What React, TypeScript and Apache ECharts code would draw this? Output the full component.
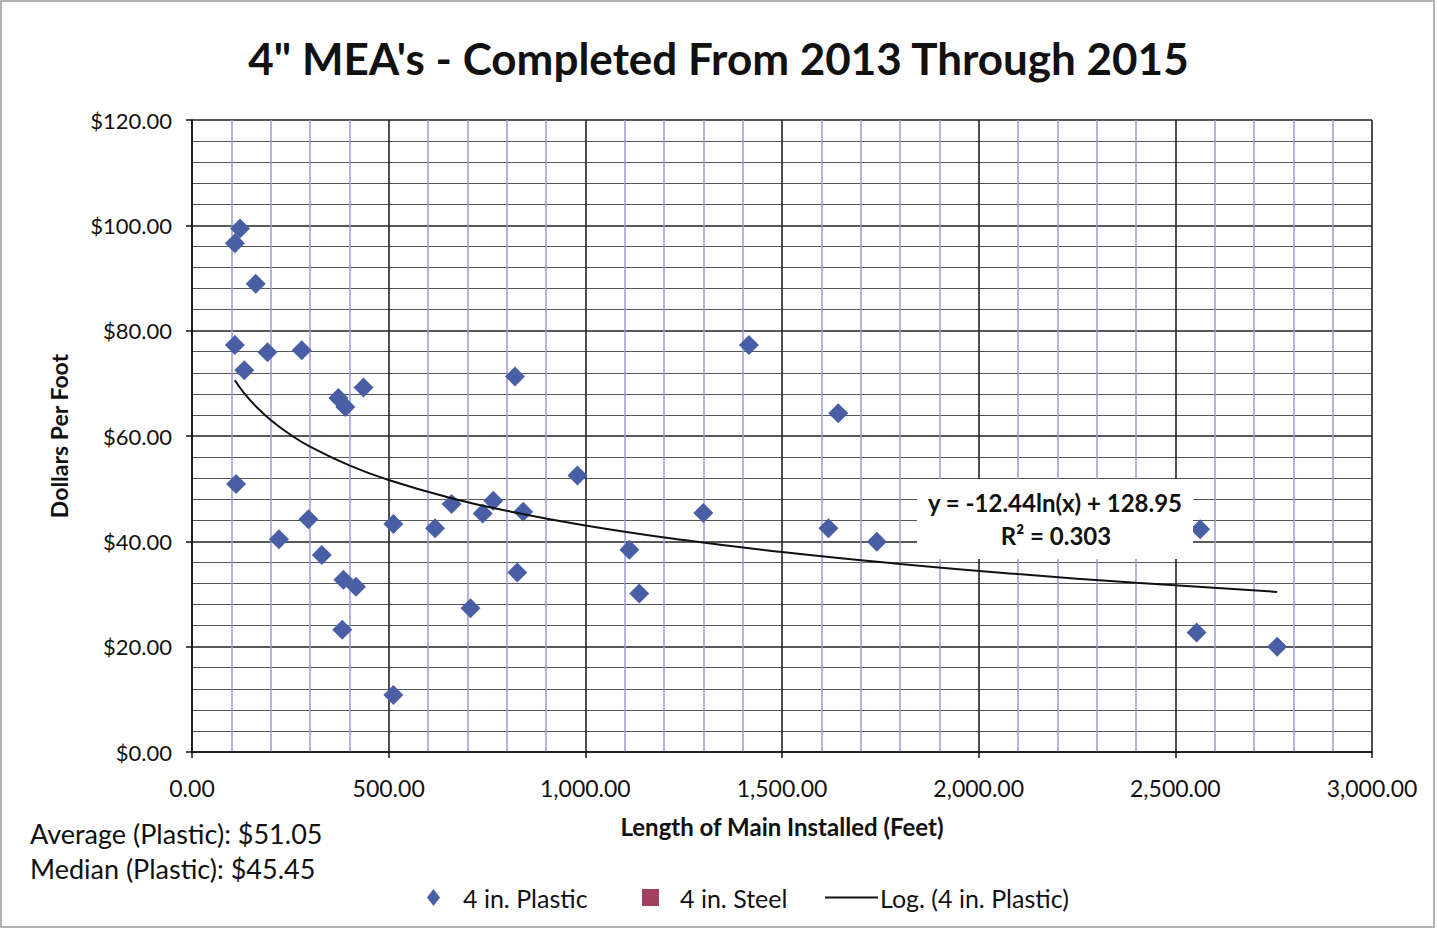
import React, { useEffect, useRef } from "react";
import * as echarts from "echarts";

const titleText = "4\" MEA's - Completed From 2013 Through 2015";
const plasticX = [122, 109, 162, 109, 192, 279, 133, 821, 436, 372, 390, 112, 980, 660, 766, 739, 842, 296, 512, 618, 221, 330, 827, 385, 417, 708, 382, 512, 1416, 1643, 1300, 1112, 1137, 1618, 1741, 2563, 2554, 2759];
const plasticY = [99.4, 96.6, 88.9, 77.3, 75.9, 76.3, 72.5, 71.3, 69.2, 67.2, 65.5, 50.9, 52.5, 47.1, 47.7, 45.3, 45.6, 44.2, 43.3, 42.5, 40.4, 37.4, 34.1, 32.7, 31.4, 27.3, 23.2, 10.8, 77.3, 64.3, 45.4, 38.4, 30.1, 42.5, 39.9, 42.3, 22.7, 20.0];
const steelX: number[] = [];
const steelY: number[] = [];
const trendCoef = [-12.44, 128.95];
const trendX = [109, 130, 160, 200, 250, 300, 400, 500, 650, 800, 1000, 1250, 1500, 1800, 2100, 2400, 2759];
const equationLines = ["y = -12.44ln(x) + 128.95", "R² = 0.303"];
const statLines = ["Average (Plastic): $51.05", "Median (Plastic): $45.45"];
const seriesNames = ["4 in. Plastic", "4 in. Steel", "Log. (4 in. Plastic)"];
const xAxisName = "Length of Main Installed (Feet)";
const yAxisName = "Dollars Per Foot";

const FONT = "Lato, 'Open Sans', sans-serif";
const PLASTIC_COLOR = "#4a5ea6";
const STEEL_COLOR = "#a3405f";

export default function App() {
  const ref = useRef<HTMLDivElement>(null);
  useEffect(() => {
    if (!ref.current) return;
    const chart = echarts.init(ref.current, null, { renderer: "svg" });
    const plastic = plasticX.map((x, i) => [x, plasticY[i]]);
    const steel = steelX.map((x, i) => [x, steelY[i]]);
    const trend = trendX.map((x) => [x, trendCoef[0] * Math.log(x) + trendCoef[1]]);
    const legendText = { fontFamily: FONT, fontSize: 25, color: "#111" };
    chart.setOption({
      animation: false,
      backgroundColor: "#fff",
      textStyle: { fontFamily: FONT },
      title: {
        text: titleText,
        left: "center",
        top: 31,
        textStyle: { fontFamily: FONT, fontSize: 44, fontWeight: "bold", color: "#111" },
      },
      grid: { left: 192, right: 65, top: 120, bottom: 183 },
      legend: [
        {
          data: [{ name: seriesNames[0], icon: "diamond" }],
          left: 422,
          top: 880,
          itemWidth: 13,
          itemHeight: 17,
          textStyle: { ...legendText, padding: [0, 0, 0, 18] },
        },
        {
          data: [{ name: seriesNames[1], icon: "rect" }],
          left: 637,
          top: 880,
          itemWidth: 17,
          itemHeight: 17,
          textStyle: { ...legendText, padding: [0, 0, 0, 16] },
        },
        {
          data: [{ name: seriesNames[2], icon: "rect" }],
          left: 820,
          top: 880,
          itemWidth: 53,
          itemHeight: 2,
          textStyle: { ...legendText, padding: [0, 0, 0, -3] },
        },
      ],
      xAxis: {
        type: "value",
        min: 0,
        max: 3000,
        interval: 500,
        name: xAxisName,
        nameLocation: "middle",
        nameGap: 62,
        nameTextStyle: { fontFamily: FONT, fontSize: 24, fontWeight: "bold", color: "#111" },
        axisLine: { show: true, onZero: false, lineStyle: { color: "#111", width: 1.5 } },
        axisTick: { show: true, length: 6, lineStyle: { color: "#111", width: 1.5 } },
        axisLabel: {
          fontFamily: FONT,
          fontSize: 23,
          color: "#111",
          margin: 24,
          formatter: (v: number) => v.toLocaleString("en-US", { minimumFractionDigits: 2, maximumFractionDigits: 2 }),
        },
        splitLine: { show: true, lineStyle: { color: "#222", width: 1.6 } },
        minorTick: { show: false, splitNumber: 5 },
        minorSplitLine: { show: true, lineStyle: { color: "#9a9ad2", width: 1.5 } },
      },
      yAxis: {
        type: "value",
        min: 0,
        max: 120,
        interval: 20,
        name: yAxisName,
        nameLocation: "middle",
        nameGap: 122,
        nameTextStyle: { fontFamily: FONT, fontSize: 23, fontWeight: "bold", color: "#111" },
        axisLine: { show: true, lineStyle: { color: "#111", width: 1.5 } },
        axisTick: { show: true, length: 6, lineStyle: { color: "#111", width: 1.5 } },
        axisLabel: {
          fontFamily: FONT,
          fontSize: 22,
          color: "#111",
          margin: 20,
          formatter: (v: number) => "$" + v.toFixed(2),
        },
        splitLine: { show: true, lineStyle: { color: "#222", width: 1.6 } },
        minorTick: { show: false, splitNumber: 5 },
        minorSplitLine: { show: true, lineStyle: { color: "#555", width: 1.2 } },
      },
      series: [
        {
          name: seriesNames[0],
          type: "scatter",
          symbol: "diamond",
          symbolSize: [20, 20],
          itemStyle: { color: PLASTIC_COLOR, opacity: 1 },
          data: plastic,
          z: 3,
        },
        {
          name: seriesNames[1],
          type: "scatter",
          symbol: "rect",
          symbolSize: 12,
          itemStyle: { color: STEEL_COLOR, opacity: 1 },
          data: steel,
        },
        {
          name: seriesNames[2],
          type: "line",
          smooth: true,
          showSymbol: false,
          symbol: "none",
          lineStyle: { color: "#111", width: 2 },
          itemStyle: { color: "#111" },
          data: trend,
          z: 4,
        },
      ],
      graphic: [
        {
          type: "rect",
          shape: { x: 1, y: 1, width: 1433, height: 926 },
          style: { fill: "none", stroke: "#999", lineWidth: 1.5 },
          z: 10,
        },
        {
          type: "rect",
          shape: { x: 917, y: 479, width: 276, height: 80 },
          style: { fill: "#fff" },
          z: 20,
        },
        {
          type: "text",
          x: 1055,
          y: 502,
          style: {
            text: equationLines[0],
            fontFamily: FONT,
            fontSize: 24,
            fontWeight: "bold",
            fill: "#111",
            align: "center",
            verticalAlign: "middle",
          },
          z: 21,
        },
        {
          type: "text",
          x: 1056,
          y: 535,
          style: {
            text: equationLines[1],
            fontFamily: FONT,
            fontSize: 24,
            fontWeight: "bold",
            fill: "#111",
            align: "center",
            verticalAlign: "middle",
          },
          z: 21,
        },
        {
          type: "text",
          x: 30,
          y: 833,
          style: { text: statLines[0], fontFamily: FONT, fontSize: 27, fill: "#111", verticalAlign: "middle" },
          z: 21,
        },
        {
          type: "text",
          x: 30,
          y: 868,
          style: { text: statLines[1], fontFamily: FONT, fontSize: 27, fill: "#111", verticalAlign: "middle" },
          z: 21,
        },
      ],
    });
    return () => chart.dispose();
  }, []);
  return <div ref={ref} style={{ position: "absolute", left: 0, top: 0, width: 1437, height: 935 }} />;
}
